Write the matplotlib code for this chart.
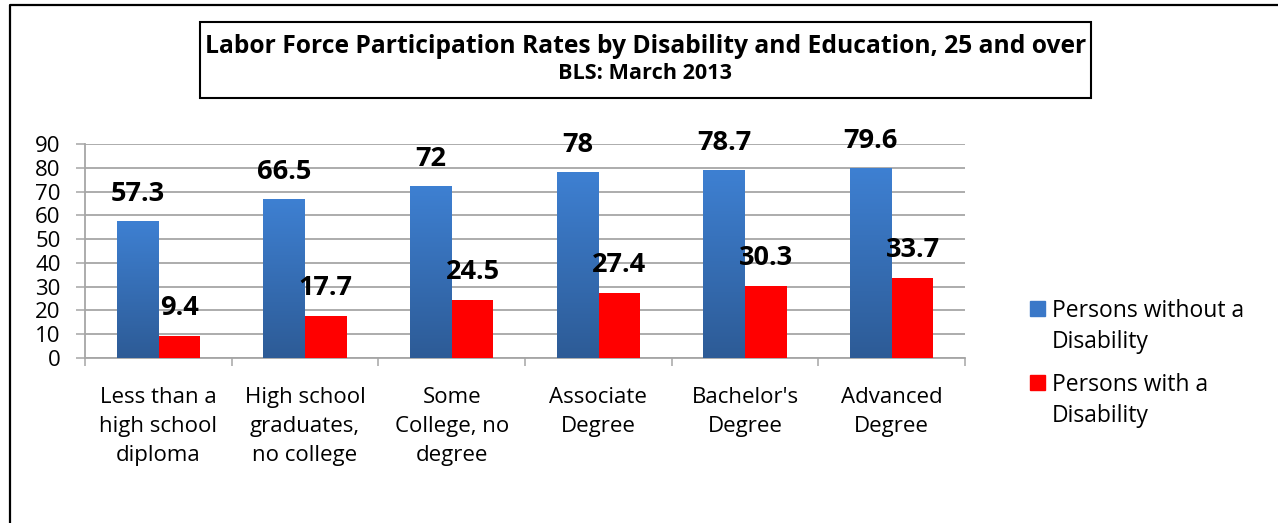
import numpy as np
import matplotlib
matplotlib.use("Agg")
import matplotlib.pyplot as plt
from matplotlib.patches import Rectangle
from matplotlib.lines import Line2D
from matplotlib.colors import LinearSegmentedColormap

categories = ["Less than a\nhigh school\ndiploma", "High school\ngraduates,\nno college",
              "Some\nCollege, no\ndegree", "Associate\nDegree", "Bachelor's\nDegree",
              "Advanced\nDegree"]
without_disability = [57.3, 66.5, 72, 78, 78.7, 79.6]
with_disability = [9.4, 17.7, 24.5, 27.4, 30.3, 33.7]
labels_without = ["57.3", "66.5", "72", "78", "78.7", "79.6"]
labels_with = ["9.4", "17.7", "24.5", "27.4", "30.3", "33.7"]
series_names = ["Persons without a\nDisability", "Persons with a\nDisability"]
yticks = [0, 10, 20, 30, 40, 50, 60, 70, 80, 90]

FONT = "Open Sans"
W, H = 1278, 523
fig = plt.figure(figsize=(W / 100, H / 100), dpi=100)

def fx(px):
    return px / W

def fy(py):
    return 1 - py / H

ax = fig.add_axes([fx(85), fy(358), fx(965) - fx(85), fy(144) - fy(358)])

x = np.arange(len(categories))
bw = 0.285
blue_cmap = LinearSegmentedColormap.from_list("b", ["#2d5b96", "#3e80d2"])
bars_b = ax.bar(x - bw / 2, without_disability, width=bw, color="none", zorder=3)
bars_r = ax.bar(x + bw / 2, with_disability, width=bw, color="#ff0000", zorder=3)

grad = np.linspace(0, 1, 256).reshape(-1, 1)
for b in bars_b:
    x0, y0 = b.get_x(), b.get_y()
    w, h = b.get_width(), b.get_height()
    ax.imshow(grad, extent=[x0, x0 + w, y0, y0 + h], origin="lower", cmap=blue_cmap,
              aspect="auto", zorder=3, interpolation="bilinear")

ax.set_xlim(-0.5, len(categories) - 0.5)
ax.set_ylim(0, 90)

for bars, labs in ((bars_b, labels_without), (bars_r, labels_with)):
    for b, t in zip(bars, labs):
        ax.annotate(t, (b.get_x() + b.get_width() / 2, b.get_height()), xytext=(0, 28),
                    textcoords="offset pixels", ha="center", va="center",
                    fontsize=19.5, fontweight="bold", family=FONT, zorder=5)

grid_c = "#a6a6a6"
ax.set_yticks(yticks)
ax.yaxis.grid(True, color=grid_c, lw=1.3, zorder=0)
ax.set_axisbelow(True)
ax.tick_params(axis="y", direction="out", length=6.5, width=1.1, color=grid_c,
               pad=11, labelsize=16)
ax.set_xticks(x)
ax.set_xticklabels(categories, fontsize=16, family=FONT, linespacing=1.5)
ax.set_xticks(np.arange(-0.5, len(categories), 1.0), minor=True)
ax.tick_params(axis="x", which="major", length=0, pad=21)
ax.tick_params(axis="x", which="minor", direction="out", length=5.5, width=1.1, color=grid_c)
for lab in ax.get_yticklabels():
    lab.set_family(FONT)
for s in ["top", "right"]:
    ax.spines[s].set_visible(False)
ax.spines["left"].set_color(grid_c)
ax.spines["bottom"].set_color(grid_c)
ax.spines["left"].set_linewidth(1.3)
ax.spines["bottom"].set_linewidth(1.3)

# outer border (top and left edges visible)
fig.add_artist(Line2D([fx(10), fx(10), 1.0], [0.0, fy(5), fy(5)], color="black", lw=1.6,
                      transform=fig.transFigure))

# title box
fig.add_artist(Rectangle((fx(200), fy(98)), fx(1091) - fx(200), fy(22) - fy(98),
                         transform=fig.transFigure, fill=False, ec="black", lw=1.5))
fig.text(fx(645.5), fy(53), "Labor Force Participation Rates by Disability and Education, 25 and over",
         ha="center", va="baseline", fontsize=17.7, fontweight="bold", family=FONT)
fig.text(fx(645.5), fy(79), "BLS: March 2013", ha="center", va="baseline",
         fontsize=15.6, fontweight="bold", family=FONT)

# legend
leg_cols = ["#3a78c8", "#ff0000"]
leg_tops = [301, 375]
for c, top, name in zip(leg_cols, leg_tops, series_names):
    fig.add_artist(Rectangle((fx(1030), fy(top + 15)), fx(15), fy(top) - fy(top + 15),
                             transform=fig.transFigure, color=c))
    fig.text(fx(1052), fy(top + 47), name, ha="left", va="baseline", fontsize=16.5,
             family=FONT, linespacing=1.38)

fig.savefig("out.png", dpi=100)
